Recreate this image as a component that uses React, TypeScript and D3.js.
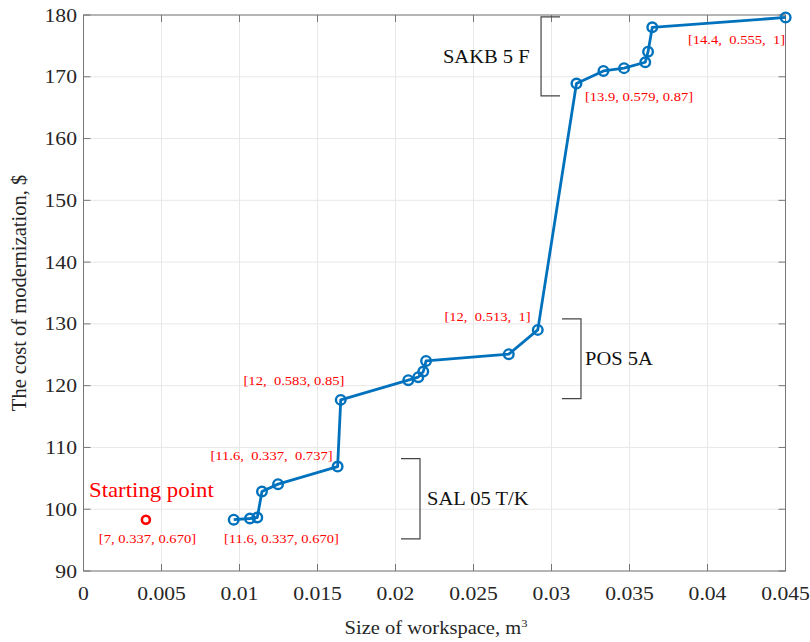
import React from "react";
import * as d3 from "d3";

// Size of workspace (m^3) and cost of modernization ($) along the optimisation path
const pathX = [0.00963, 0.01067, 0.01114, 0.01144, 0.01247, 0.01629, 0.01649, 0.02082, 0.02146, 0.02178, 0.02196, 0.02726, 0.02912, 0.0316, 0.03333, 0.03465, 0.03601, 0.03619, 0.03646, 0.04501];
const pathY = [98.3, 98.5, 98.66, 102.87, 104.06, 106.9, 117.7, 120.89, 121.38, 122.28, 124.01, 125.1, 129.03, 168.9, 170.94, 171.4, 172.35, 174.06, 178.0, 179.6];

const startX = 0.004;
const startY = 98.3;

const xTicks = [0, 0.005, 0.01, 0.015, 0.02, 0.025, 0.03, 0.035, 0.04, 0.045];
const xTickLabels = ["0", "0.005", "0.01", "0.015", "0.02", "0.025", "0.03", "0.035", "0.04", "0.045"];
const yTicks = [90, 100, 110, 120, 130, 140, 150, 160, 170, 180];

// Parameter annotations (centre x, baseline y in data units)
const noteTexts = ["[14.4,  0.555,  1]", "[13.9, 0.579, 0.87]", "[12,  0.513,  1]", "[12,  0.583, 0.85]", "[11.6,  0.337,  0.737]", "[7, 0.337, 0.670]", "[11.6, 0.337, 0.670]"];
const noteX = [0.04186, 0.03561, 0.0259, 0.01349, 0.01205, 0.0041, 0.01269];
const noteY = [175.3, 166.08, 130.49, 120.13, 108.0, 94.56, 94.56];

// Component groups and the cost ranges their brackets span
const groupNames = ["SAKB 5 F", "POS 5A", "SAL 05 T/K"];
const groupYTop = [179.7, 130.8, 108.2];
const groupYBottom = [166.9, 117.9, 95.2];
const groupBracketX = [0.02933, 0.03189, 0.02157];
const groupLabelX = [0.02304, 0.03215, 0.02202];

const W = 810;
const H = 642;
const m = { left: 83.5, right: 785.5, top: 15, bottom: 571 };
const SX = 1.14; // horizontal text stretch

const serif = "'Liberation Serif', 'DejaVu Serif', serif";

function Txt(props: { x: number; y: number; size: number; fill: string; anchor?: string; children: React.ReactNode }) {
  const { x, y, size, fill, anchor = "start", children } = props;
  return (
    <text
      transform={`translate(${x},${y}) scale(${SX},1)`}
      textAnchor={anchor as any}
      fontFamily={serif}
      fontSize={size}
      fill={fill}
      style={{ whiteSpace: "pre" }}
    >
      {children}
    </text>
  );
}

export default function App() {
  const x = d3.scaleLinear().domain([0, 0.045]).range([m.left, m.right]);
  const y = d3.scaleLinear().domain([90, 180]).range([m.bottom, m.top]);
  const pts = pathX.map((v, i) => [x(v), y(pathY[i])] as [number, number]);
  const line = d3.line()(pts) || "";
  const blue = "#0072BD";
  const red = "#FF0000";
  const axisColor = "#777";
  const bdir = [1, -1, -1];

  return (
    <svg width={W} height={H} style={{ position: "absolute", left: 0, top: 0, background: "#fff" }}>
      <rect x={0} y={0} width={W} height={H} fill="#fff" />
      {/* grid */}
      {xTicks.map((t) => (
        <line key={"gx" + t} x1={x(t)} x2={x(t)} y1={m.top} y2={m.bottom} stroke="#e8e8e8" strokeWidth={1} />
      ))}
      {yTicks.map((t) => (
        <line key={"gy" + t} x1={m.left} x2={m.right} y1={y(t)} y2={y(t)} stroke="#e8e8e8" strokeWidth={1} />
      ))}
      {/* box */}
      <rect x={m.left} y={m.top} width={m.right - m.left} height={m.bottom - m.top} fill="none" stroke={axisColor} strokeWidth={1} />
      {/* ticks */}
      {xTicks.map((t) => (
        <g key={"tx" + t}>
          <line x1={x(t)} x2={x(t)} y1={m.bottom} y2={m.bottom - 7} stroke={axisColor} />
          <line x1={x(t)} x2={x(t)} y1={m.top} y2={m.top + 7} stroke={axisColor} />
        </g>
      ))}
      {yTicks.map((t) => (
        <g key={"ty" + t}>
          <line x1={m.left} x2={m.left + 7} y1={y(t)} y2={y(t)} stroke={axisColor} />
          <line x1={m.right} x2={m.right - 7} y1={y(t)} y2={y(t)} stroke={axisColor} />
        </g>
      ))}
      {/* tick labels */}
      {xTicks.map((t, i) => (
        <Txt key={"lx" + t} x={x(t)} y={600} size={19} fill="#262626" anchor="middle">
          {xTickLabels[i]}
        </Txt>
      ))}
      {yTicks.map((t) => (
        <Txt key={"ly" + t} x={77} y={y(t) + 6.5} size={19} fill="#262626" anchor="end">
          {t}
        </Txt>
      ))}
      {/* axis titles */}
      <Txt x={436} y={634} size={18} fill="#262626" anchor="middle">
        Size of workspace, m<tspan dy={-7} fontSize={11}>3</tspan>
      </Txt>
      <text transform={`translate(26, ${(m.top + m.bottom) / 2}) rotate(-90)`} textAnchor="middle" fontFamily={serif} fontSize={20.5} fill="#262626">
        The cost of modernization, $
      </text>
      {/* component brackets */}
      {groupNames.map((g, i) => {
        const x0 = x(groupBracketX[i]);
        const x1 = x0 + bdir[i] * 19;
        const yt = y(groupYTop[i]);
        const yb = y(groupYBottom[i]);
        return (
          <g key={g}>
            <path d={`M${x1},${yt}H${x0}V${yb}H${x1}`} fill="none" stroke="#444" strokeWidth={1.2} />
            <Txt x={x(groupLabelX[i])} y={(yt + yb) / 2 + 6.5} size={18} fill="#111">
              {g}
            </Txt>
          </g>
        );
      })}
      {/* path */}
      <path d={line} fill="none" stroke={blue} strokeWidth={2.8} strokeLinejoin="round" />
      {pts.map((p, i) => (
        <circle key={"p" + i} cx={p[0]} cy={p[1]} r={4.8} fill="none" stroke={blue} strokeWidth={2.4} />
      ))}
      {/* starting point */}
      <circle cx={x(startX)} cy={y(startY)} r={4} fill="none" stroke={red} strokeWidth={2.6} />
      <Txt x={89} y={497} size={20} fill={red}>
        Starting point
      </Txt>
      {/* parameter notes */}
      {noteTexts.map((t, i) => (
        <Txt key={"n" + i} x={x(noteX[i])} y={y(noteY[i])} size={12.8} fill={red} anchor="middle">
          {t}
        </Txt>
      ))}
    </svg>
  );
}
